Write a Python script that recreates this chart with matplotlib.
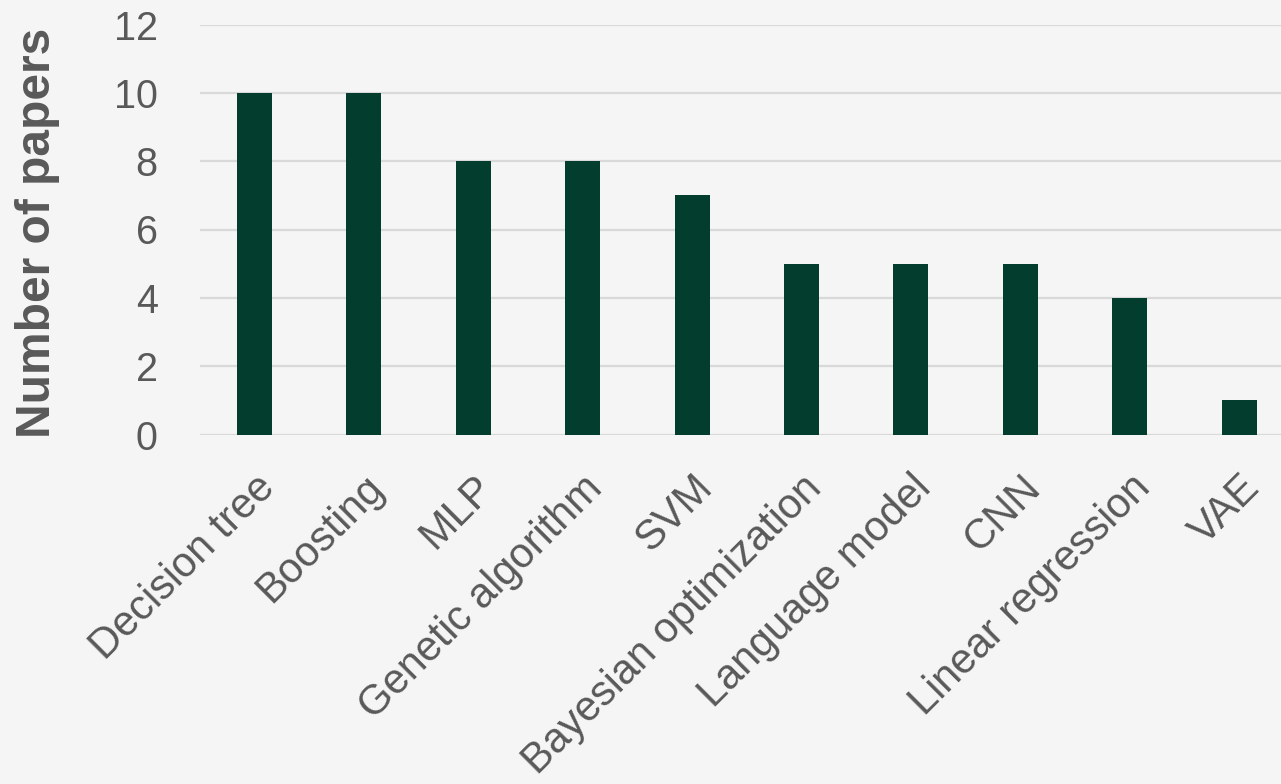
import matplotlib
matplotlib.use("Agg")
import matplotlib.pyplot as plt

categories = ["Decision tree", "Boosting", "MLP", "Genetic algorithm", "SVM",
              "Bayesian optimization", "Language model", "CNN",
              "Linear regression", "VAE"]
papers = [10, 10, 8, 8, 7, 5, 5, 5, 4, 1]
yticks = [0, 2, 4, 6, 8, 10, 12]

bg = "#f5f5f5"
txt = "#595959"
bar_color = "#033d2e"

plt.rcParams['font.family'] = ['Liberation Sans', 'DejaVu Sans']

W, H = 1281, 784
fig = plt.figure(figsize=(W / 100, H / 100), dpi=100, facecolor=bg)
left, right = 199.5, 1294
top, bottom = 24.5, 434.5
ax = fig.add_axes([left / W, 1 - bottom / H, (right - left) / W, (bottom - top) / H])
ax.set_facecolor(bg)

x = list(range(len(categories)))
ax.bar(x, papers, width=0.32, color=bar_color, zorder=3)
ax.set_xlim(-0.5, len(categories) - 0.5)
ax.set_ylim(0, 12)
ax.set_yticks(yticks)
ax.set_yticklabels([str(v) for v in yticks])
ax.yaxis.grid(True, color="#d9d9d9", linewidth=1.6, zorder=0)
ax.set_axisbelow(True)
for s in ax.spines.values():
    s.set_visible(False)
ax.tick_params(axis='y', length=0, pad=30, labelsize=28.5, labelcolor=txt)
ax.tick_params(axis='x', length=0, pad=24, labelsize=30, labelcolor=txt)
ax.set_xticks(x)
ax.set_xticklabels(categories, rotation=45, ha='right', rotation_mode='anchor')
fig.text(37.5 / W, 1 - 233 / H, "Number of papers", rotation=90, ha='center', va='center',
         fontsize=34.5, fontweight='bold', color=txt)

fig.savefig("out.png", dpi=100, facecolor=bg)
